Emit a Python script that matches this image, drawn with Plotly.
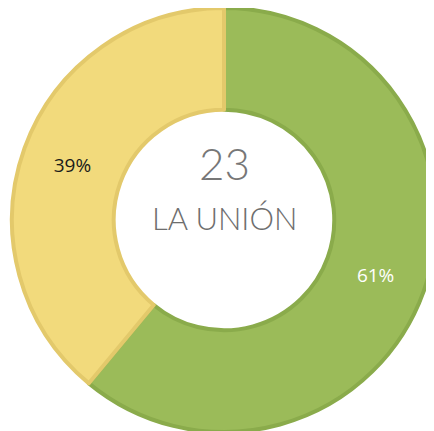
import plotly.graph_objects as go

labels = ["Sí", "No"]
values = [61, 39]
fill_colors = ["#9bbb59", "#f2da7c"]
line_colors = ["#8aab4b", "#e3c96b"]
text_colors = ["#ffffff", "#1a1a1a"]
center_number = "23"
center_name = "LA UNIÓN"

fig = go.Figure(go.Pie(
    labels=labels,
    values=values,
    hole=0.52,
    sort=False,
    direction="clockwise",
    rotation=0,
    marker=dict(colors=fill_colors, line=dict(color=line_colors, width=4)),
    texttemplate="%{percent:.0%}",
    textposition="inside",
    insidetextorientation="horizontal",
    textfont=dict(color=text_colors, size=19, family="Open Sans"),
    showlegend=False,
    hoverinfo="skip",
))

fig.add_annotation(x=0.5, y=0.5, xref="paper", yref="paper", text=center_number,
                   showarrow=False, yshift=57,
                   font=dict(size=44, color="#777777", family="Lato", weight=300))
fig.add_annotation(x=0.5, y=0.5, xref="paper", yref="paper", text=center_name,
                   showarrow=False, yshift=2,
                   font=dict(size=31, color="#6e6e6e", family="Lato", weight=300))

fig.update_layout(
    width=434, height=431,
    margin=dict(l=4, r=6, t=0, b=7),
    paper_bgcolor="white",
    plot_bgcolor="white",
    uniformtext=dict(minsize=19, mode="show"),
)

fig.write_html("out.html")
